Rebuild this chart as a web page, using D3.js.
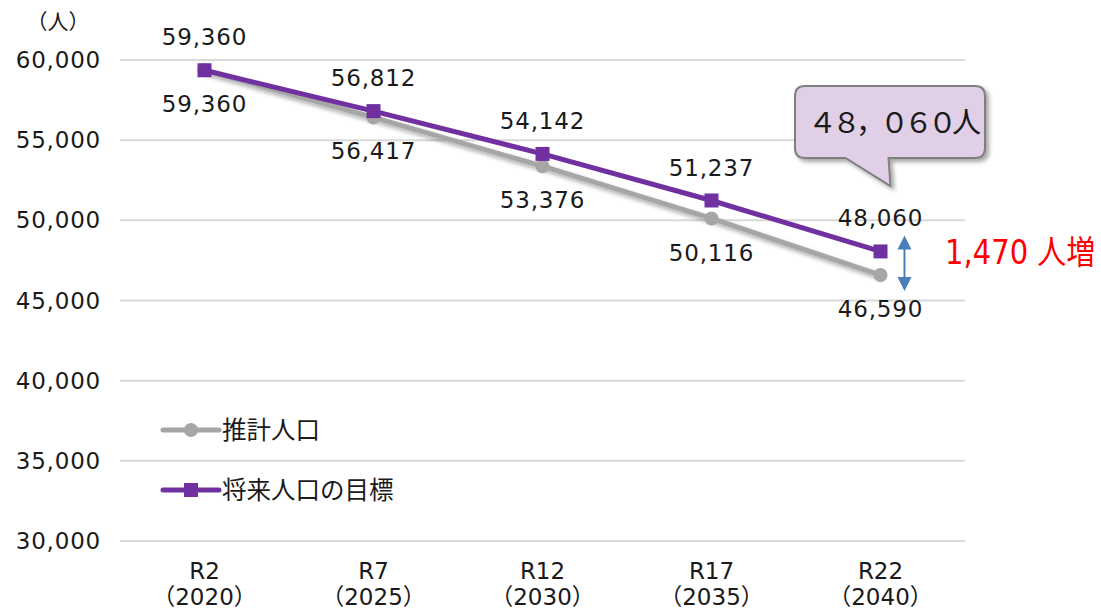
<!DOCTYPE html>
<html>
<head>
<meta charset="utf-8">
<script src="https://cdn.jsdelivr.net/npm/d3@7"></script>
<style>
  body { margin: 0; background: #fff; }
  text { font-family: "DejaVu Sans", "Noto Sans CJK JP", sans-serif; fill: #1a1a1a; }
</style>
</head>
<body>
<div id="chart"></div>
<script>
// data
const periods = ["R2", "R7", "R12", "R17", "R22"];
const years = ["（2020）", "（2025）", "（2030）", "（2035）", "（2040）"];
const estimate = [59360, 56417, 53376, 50116, 46590];
const target = [59360, 56812, 54142, 51237, 48060];
const yTicks = [30000, 35000, 40000, 45000, 50000, 55000, 60000];
const seriesNames = ["推計人口", "将来人口の目標"];

const width = 1101, height = 610;
const plot = {left: 120, right: 965, top: 60, bottom: 541};

const svg = d3.select("#chart").append("svg")
    .attr("width", width)
    .attr("height", height);

const defs = svg.append("defs");
const shadow = defs.append("filter").attr("id", "shadow")
    .attr("x", "-20%").attr("y", "-20%").attr("width", "150%").attr("height", "150%");
shadow.append("feDropShadow")
    .attr("dx", 3).attr("dy", 3).attr("stdDeviation", 2)
    .attr("flood-color", "#000").attr("flood-opacity", 0.35);

const x = d3.scaleBand()
    .domain(periods)
    .range([plot.left, plot.right]);

const y = d3.scaleLinear()
    .domain([30000, 60000])
    .range([plot.bottom, plot.top]);

const fmt = d3.format(",");
const cx = (d, i) => x(periods[i]) + x.bandwidth() / 2;
const numSize = 23, numSpacing = 0.8;

// grid
svg.append("g")
    .selectAll("line")
    .data(yTicks)
    .join("line")
    .attr("x1", plot.left)
    .attr("x2", plot.right)
    .attr("y1", d => y(d))
    .attr("y2", d => y(d))
    .attr("stroke", "#d9d9d9")
    .attr("stroke-width", 2);

// y axis labels
svg.append("g")
    .selectAll("text")
    .data(yTicks)
    .join("text")
    .attr("x", 101)
    .attr("y", d => y(d))
    .attr("dy", "0.35em")
    .attr("text-anchor", "end")
    .attr("font-size", numSize)
    .attr("letter-spacing", numSpacing)
    .text(d => fmt(d));

svg.append("text")
    .attr("x", 58)
    .attr("y", 22)
    .attr("dy", "0.35em")
    .attr("text-anchor", "middle")
    .attr("font-size", 21)
    .text("（人）");

// x axis labels
const xl = svg.append("g")
    .selectAll("g")
    .data(periods)
    .join("g")
    .attr("transform", (d, i) => `translate(${cx(d, i)},0)`);
xl.append("text")
    .attr("y", 571)
    .attr("dy", "0.35em")
    .attr("text-anchor", "middle")
    .attr("font-size", numSize)
    .text(d => d);
xl.append("text")
    .attr("y", 597)
    .attr("dy", "0.35em")
    .attr("text-anchor", "middle")
    .attr("font-size", numSize)
    .text((d, i) => years[i]);

// lines
const line = d3.line()
    .x(cx)
    .y(d => y(d));

svg.append("path")
    .datum(estimate)
    .attr("d", line)
    .attr("fill", "none")
    .attr("stroke", "#a6a6a6")
    .attr("stroke-width", 5)
    .attr("filter", "url(#shadow)");

svg.append("g")
    .selectAll("circle")
    .data(estimate)
    .join("circle")
    .attr("cx", cx)
    .attr("cy", d => y(d))
    .attr("r", 7)
    .attr("fill", "#a6a6a6");

svg.append("path")
    .datum(target)
    .attr("d", line)
    .attr("fill", "none")
    .attr("stroke", "#7030a0")
    .attr("stroke-width", 5);

svg.append("g")
    .selectAll("rect")
    .data(target)
    .join("rect")
    .attr("x", (d, i) => cx(d, i) - 7)
    .attr("y", d => y(d) - 7)
    .attr("width", 14)
    .attr("height", 14)
    .attr("fill", "#7030a0");

// value labels
svg.append("g")
    .selectAll("text")
    .data(target)
    .join("text")
    .attr("x", cx)
    .attr("y", d => y(d) - 33)
    .attr("dy", "0.35em")
    .attr("text-anchor", "middle")
    .attr("font-size", numSize)
    .attr("letter-spacing", numSpacing)
    .text(d => fmt(d));

svg.append("g")
    .selectAll("text")
    .data(estimate)
    .join("text")
    .attr("x", cx)
    .attr("y", d => y(d) + 34)
    .attr("dy", "0.35em")
    .attr("text-anchor", "middle")
    .attr("font-size", numSize)
    .attr("letter-spacing", numSpacing)
    .text(d => fmt(d));

// legend
const legend = svg.append("g")
    .selectAll("g")
    .data(seriesNames)
    .join("g")
    .attr("transform", (d, i) => `translate(163,${430 + i * 60})`);
legend.append("line")
    .attr("x1", 0).attr("x2", 56)
    .attr("stroke", (d, i) => i ? "#7030a0" : "#a6a6a6")
    .attr("stroke-width", 5)
    .attr("stroke-linecap", "round");
legend.filter((d, i) => i === 0).append("circle")
    .attr("cx", 28).attr("r", 7).attr("fill", "#a6a6a6");
legend.filter((d, i) => i === 1).append("rect")
    .attr("x", 21).attr("y", -7).attr("width", 14).attr("height", 14).attr("fill", "#7030a0");
legend.append("text")
    .attr("x", 59)
    .attr("dy", "0.35em")
    .attr("font-size", 24.5)
    .attr("font-family", "Noto Sans CJK JP")
    .text(d => d);

// callout
const last = periods.length - 1;
const px = cx(null, last);
const callout = svg.append("g").attr("filter", "url(#shadow)");
const bx0 = 795, bx1 = 985, by0 = 86, by1 = 158, r = 10;
callout.append("path")
    .attr("d", `M${bx0 + r},${by0} H${bx1 - r} Q${bx1},${by0} ${bx1},${by0 + r} V${by1 - r} Q${bx1},${by1} ${bx1 - r},${by1}
      H${px + 8} L${px + 10},${by1 + 28} L${px - 35},${by1} H${bx0 + r} Q${bx0},${by1} ${bx0},${by1 - r} V${by0 + r} Q${bx0},${by0} ${bx0 + r},${by0} Z`)
    .attr("fill", "#e0cfe7")
    .attr("stroke", "#7f7f7f")
    .attr("stroke-width", 2);
svg.append("text")
    .attr("x", 892)
    .attr("y", 123)
    .attr("dy", "0.35em")
    .attr("text-anchor", "middle")
    .attr("font-size", 29)
    .attr("letter-spacing", -5)
    .attr("font-family", "Noto Sans CJK JP")
    .text("４８，０６０人");

// difference arrow
const ax = px + 24;
const diff = target[last] - estimate[last];
svg.append("line")
    .attr("x1", ax).attr("x2", ax)
    .attr("y1", y(target[last]) - 10)
    .attr("y2", y(estimate[last]) + 10)
    .attr("stroke", "#4a7ebb")
    .attr("stroke-width", 2);
svg.append("path")
    .attr("d", `M${ax},${y(target[last]) - 16} l-7,14 h14 Z M${ax},${y(estimate[last]) + 16} l-7,-14 h14 Z`)
    .attr("fill", "#4a7ebb");
svg.append("text")
    .attr("x", 945)
    .attr("y", 252)
    .attr("dy", "0.35em")
    .attr("font-size", 33)
    .attr("font-family", "Noto Sans CJK JP")
    .attr("transform", "translate(945,0) scale(0.88,1) translate(-945,0)")
    .style("fill", "#ff0000")
    .text(fmt(diff) + " 人増");
</script>
</body>
</html>
